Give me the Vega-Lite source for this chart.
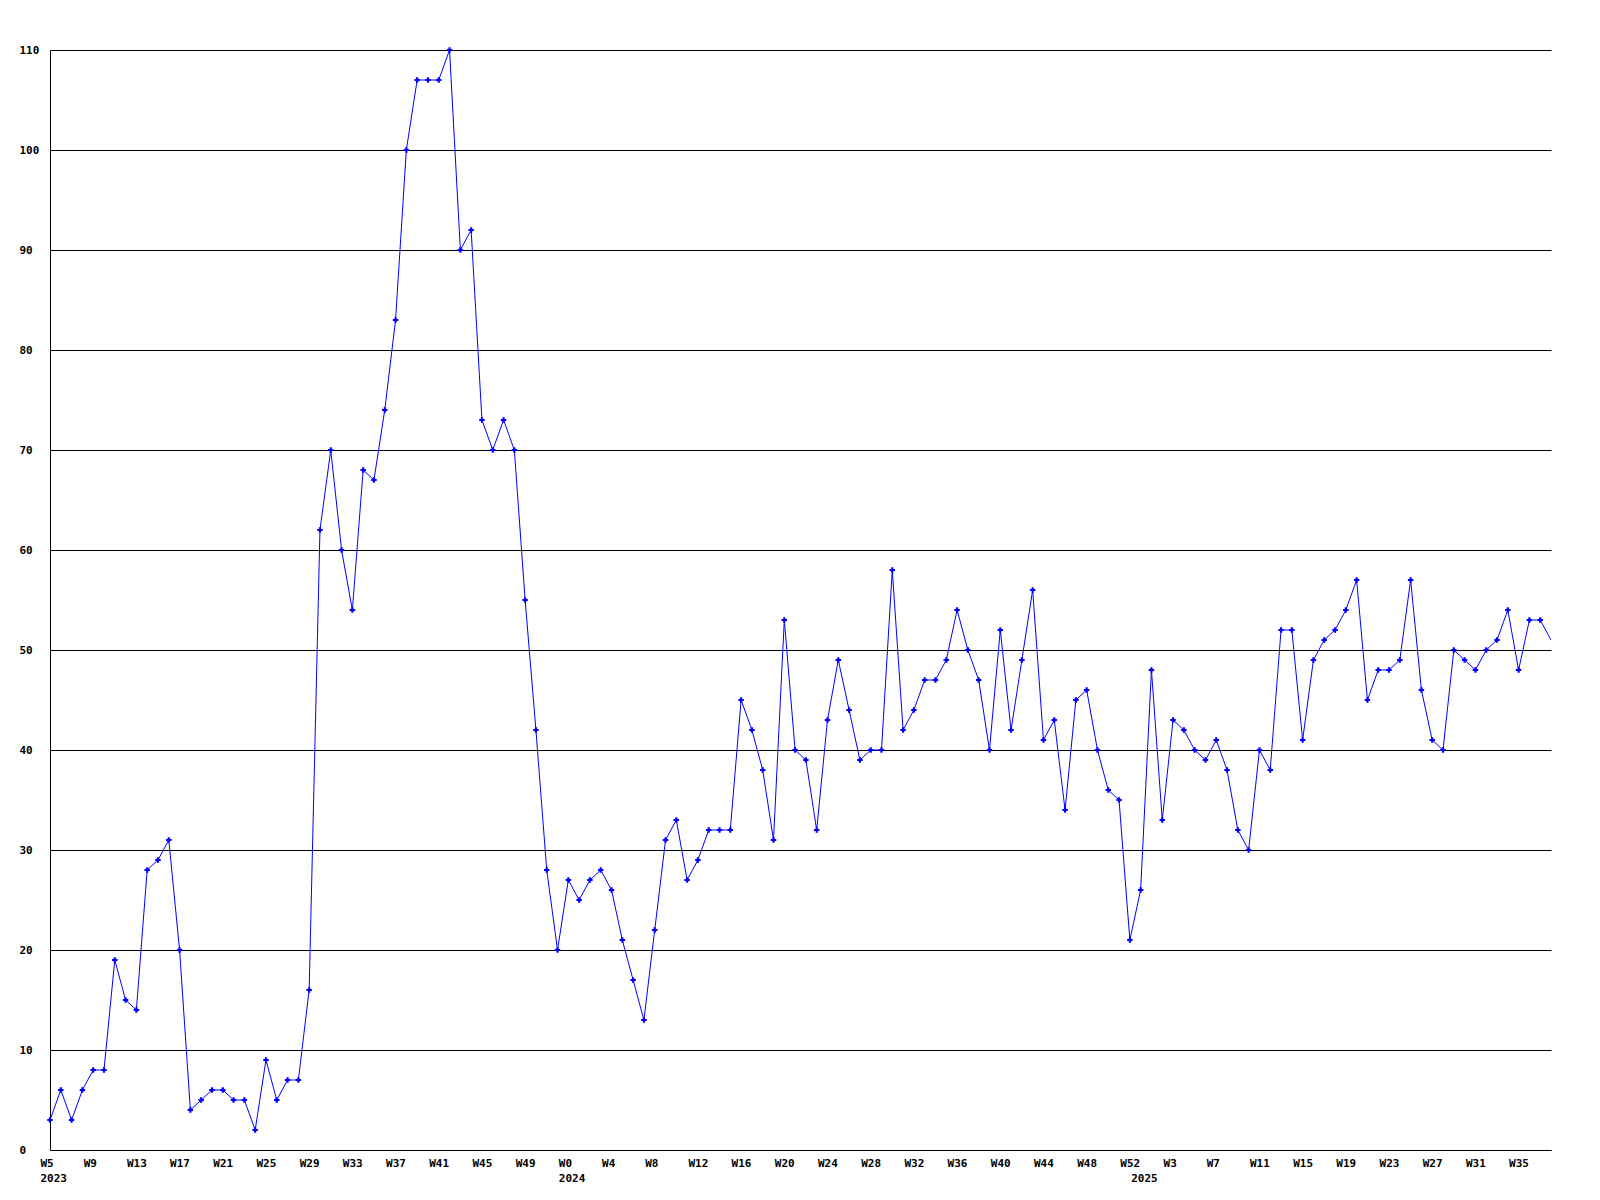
{
  "$schema": "https://vega.github.io/schema/vega-lite/v6.json",
  "width": 1501,
  "height": 1100,
  "autosize": {"type": "none"},
  "padding": {"left": 50, "top": 50, "right": 49, "bottom": 50},
  "background": "white",
  "config": {
    "view": {"stroke": null},
    "axis": {"labelFont": "DejaVu Sans Mono", "labelFontWeight": "bold", "labelFontSize": 11, "labelColor": "black"}
  },
  "data": {"values": [
    {"week": "2023-W05", "count": 3}, {"week": "2023-W06", "count": 6}, {"week": "2023-W07", "count": 3}, {"week": "2023-W08", "count": 6},
    {"week": "2023-W09", "count": 8}, {"week": "2023-W10", "count": 8}, {"week": "2023-W11", "count": 19}, {"week": "2023-W12", "count": 15},
    {"week": "2023-W13", "count": 14}, {"week": "2023-W14", "count": 28}, {"week": "2023-W15", "count": 29}, {"week": "2023-W16", "count": 31},
    {"week": "2023-W17", "count": 20}, {"week": "2023-W18", "count": 4}, {"week": "2023-W19", "count": 5}, {"week": "2023-W20", "count": 6},
    {"week": "2023-W21", "count": 6}, {"week": "2023-W22", "count": 5}, {"week": "2023-W23", "count": 5}, {"week": "2023-W24", "count": 2},
    {"week": "2023-W25", "count": 9}, {"week": "2023-W26", "count": 5}, {"week": "2023-W27", "count": 7}, {"week": "2023-W28", "count": 7},
    {"week": "2023-W29", "count": 16}, {"week": "2023-W30", "count": 62}, {"week": "2023-W31", "count": 70}, {"week": "2023-W32", "count": 60},
    {"week": "2023-W33", "count": 54}, {"week": "2023-W34", "count": 68}, {"week": "2023-W35", "count": 67}, {"week": "2023-W36", "count": 74},
    {"week": "2023-W37", "count": 83}, {"week": "2023-W38", "count": 100}, {"week": "2023-W39", "count": 107}, {"week": "2023-W40", "count": 107},
    {"week": "2023-W41", "count": 107}, {"week": "2023-W42", "count": 110}, {"week": "2023-W43", "count": 90}, {"week": "2023-W44", "count": 92},
    {"week": "2023-W45", "count": 73}, {"week": "2023-W46", "count": 70}, {"week": "2023-W47", "count": 73}, {"week": "2023-W48", "count": 70},
    {"week": "2023-W49", "count": 55}, {"week": "2023-W50", "count": 42}, {"week": "2023-W51", "count": 28}, {"week": "2023-W52", "count": 20},
    {"week": "2024-W00", "count": 27}, {"week": "2024-W01", "count": 25}, {"week": "2024-W02", "count": 27}, {"week": "2024-W03", "count": 28},
    {"week": "2024-W04", "count": 26}, {"week": "2024-W05", "count": 21}, {"week": "2024-W06", "count": 17}, {"week": "2024-W07", "count": 13},
    {"week": "2024-W08", "count": 22}, {"week": "2024-W09", "count": 31}, {"week": "2024-W10", "count": 33}, {"week": "2024-W11", "count": 27},
    {"week": "2024-W12", "count": 29}, {"week": "2024-W13", "count": 32}, {"week": "2024-W14", "count": 32}, {"week": "2024-W15", "count": 32},
    {"week": "2024-W16", "count": 45}, {"week": "2024-W17", "count": 42}, {"week": "2024-W18", "count": 38}, {"week": "2024-W19", "count": 31},
    {"week": "2024-W20", "count": 53}, {"week": "2024-W21", "count": 40}, {"week": "2024-W22", "count": 39}, {"week": "2024-W23", "count": 32},
    {"week": "2024-W24", "count": 43}, {"week": "2024-W25", "count": 49}, {"week": "2024-W26", "count": 44}, {"week": "2024-W27", "count": 39},
    {"week": "2024-W28", "count": 40}, {"week": "2024-W29", "count": 40}, {"week": "2024-W30", "count": 58}, {"week": "2024-W31", "count": 42},
    {"week": "2024-W32", "count": 44}, {"week": "2024-W33", "count": 47}, {"week": "2024-W34", "count": 47}, {"week": "2024-W35", "count": 49},
    {"week": "2024-W36", "count": 54}, {"week": "2024-W37", "count": 50}, {"week": "2024-W38", "count": 47}, {"week": "2024-W39", "count": 40},
    {"week": "2024-W40", "count": 52}, {"week": "2024-W41", "count": 42}, {"week": "2024-W42", "count": 49}, {"week": "2024-W43", "count": 56},
    {"week": "2024-W44", "count": 41}, {"week": "2024-W45", "count": 43}, {"week": "2024-W46", "count": 34}, {"week": "2024-W47", "count": 45},
    {"week": "2024-W48", "count": 46}, {"week": "2024-W49", "count": 40}, {"week": "2024-W50", "count": 36}, {"week": "2024-W51", "count": 35},
    {"week": "2024-W52", "count": 21}, {"week": "2025-W00", "count": 26}, {"week": "2025-W01", "count": 48}, {"week": "2025-W02", "count": 33},
    {"week": "2025-W03", "count": 43}, {"week": "2025-W04", "count": 42}, {"week": "2025-W05", "count": 40}, {"week": "2025-W06", "count": 39},
    {"week": "2025-W07", "count": 41}, {"week": "2025-W08", "count": 38}, {"week": "2025-W09", "count": 32}, {"week": "2025-W10", "count": 30},
    {"week": "2025-W11", "count": 40}, {"week": "2025-W12", "count": 38}, {"week": "2025-W13", "count": 52}, {"week": "2025-W14", "count": 52},
    {"week": "2025-W15", "count": 41}, {"week": "2025-W16", "count": 49}, {"week": "2025-W17", "count": 51}, {"week": "2025-W18", "count": 52},
    {"week": "2025-W19", "count": 54}, {"week": "2025-W20", "count": 57}, {"week": "2025-W21", "count": 45}, {"week": "2025-W22", "count": 48},
    {"week": "2025-W23", "count": 48}, {"week": "2025-W24", "count": 49}, {"week": "2025-W25", "count": 57}, {"week": "2025-W26", "count": 46},
    {"week": "2025-W27", "count": 41}, {"week": "2025-W28", "count": 40}, {"week": "2025-W29", "count": 50}, {"week": "2025-W30", "count": 49},
    {"week": "2025-W31", "count": 48}, {"week": "2025-W32", "count": 50}, {"week": "2025-W33", "count": 51}, {"week": "2025-W34", "count": 54},
    {"week": "2025-W35", "count": 48}, {"week": "2025-W36", "count": 53}, {"week": "2025-W37", "count": 53}, {"week": "2025-W38", "count": 51}
  ]},
  "encoding": {
    "x": {
      "field": "week", "type": "ordinal",
      "scale": {"type": "point", "padding": 0},
      "axis": {
        "title": null,
        "orient": "bottom",
        "values": ["2023-W05","2023-W09","2023-W13","2023-W17","2023-W21","2023-W25","2023-W29","2023-W33","2023-W37","2023-W41","2023-W45","2023-W49",
                   "2024-W00","2024-W04","2024-W08","2024-W12","2024-W16","2024-W20","2024-W24","2024-W28","2024-W32","2024-W36","2024-W40","2024-W44","2024-W48","2024-W52",
                   "2025-W00","2025-W03","2025-W07","2025-W11","2025-W15","2025-W19","2025-W23","2025-W27","2025-W31","2025-W35"],
        "labelExpr": "datum.value == '2025-W00' ? ['', '2025'] : ((datum.value == '2023-W05' || datum.value == '2024-W00') ? ['W' + toNumber(substring(datum.value, 6)), substring(datum.value, 0, 4)] : 'W' + toNumber(substring(datum.value, 6)))",
        "labelAngle": 0,
        "labelAlign": "left",
        "labelBaseline": "top",
        "labelOffset": -10,
        "labelPadding": 7,
        "labelLineHeight": 15,
        "labelOverlap": false,
        "labelBound": false,
        "labelFlush": false,
        "ticks": false,
        "tickSize": 0,
        "grid": false,
        "domain": true,
        "domainColor": "black",
        "domainWidth": 1
      }
    },
    "y": {
      "field": "count", "type": "quantitative",
      "scale": {"domain": [0, 110], "nice": false, "zero": true},
      "axis": {
        "title": null,
        "values": [0, 10, 20, 30, 40, 50, 60, 70, 80, 90, 100, 110],
        "labelAlign": "left",
        "labelPadding": 31,
        "labelOverlap": false,
        "labelBound": false,
        "ticks": false,
        "tickSize": 0,
        "grid": true,
        "gridColor": "black",
        "gridOpacity": 1,
        "gridWidth": 1,
        "domain": true,
        "domainColor": "black",
        "domainWidth": 1
      }
    }
  },
  "layer": [
    {"mark": {"type": "line", "color": "#0000ff", "strokeWidth": 1, "clip": true}},
    {
      "transform": [{"filter": "datum.week != '2025-W38'"}],
      "mark": {"type": "point", "shape": "cross", "filled": true, "color": "#0000ff", "size": 30, "opacity": 1}
    }
  ]
}
